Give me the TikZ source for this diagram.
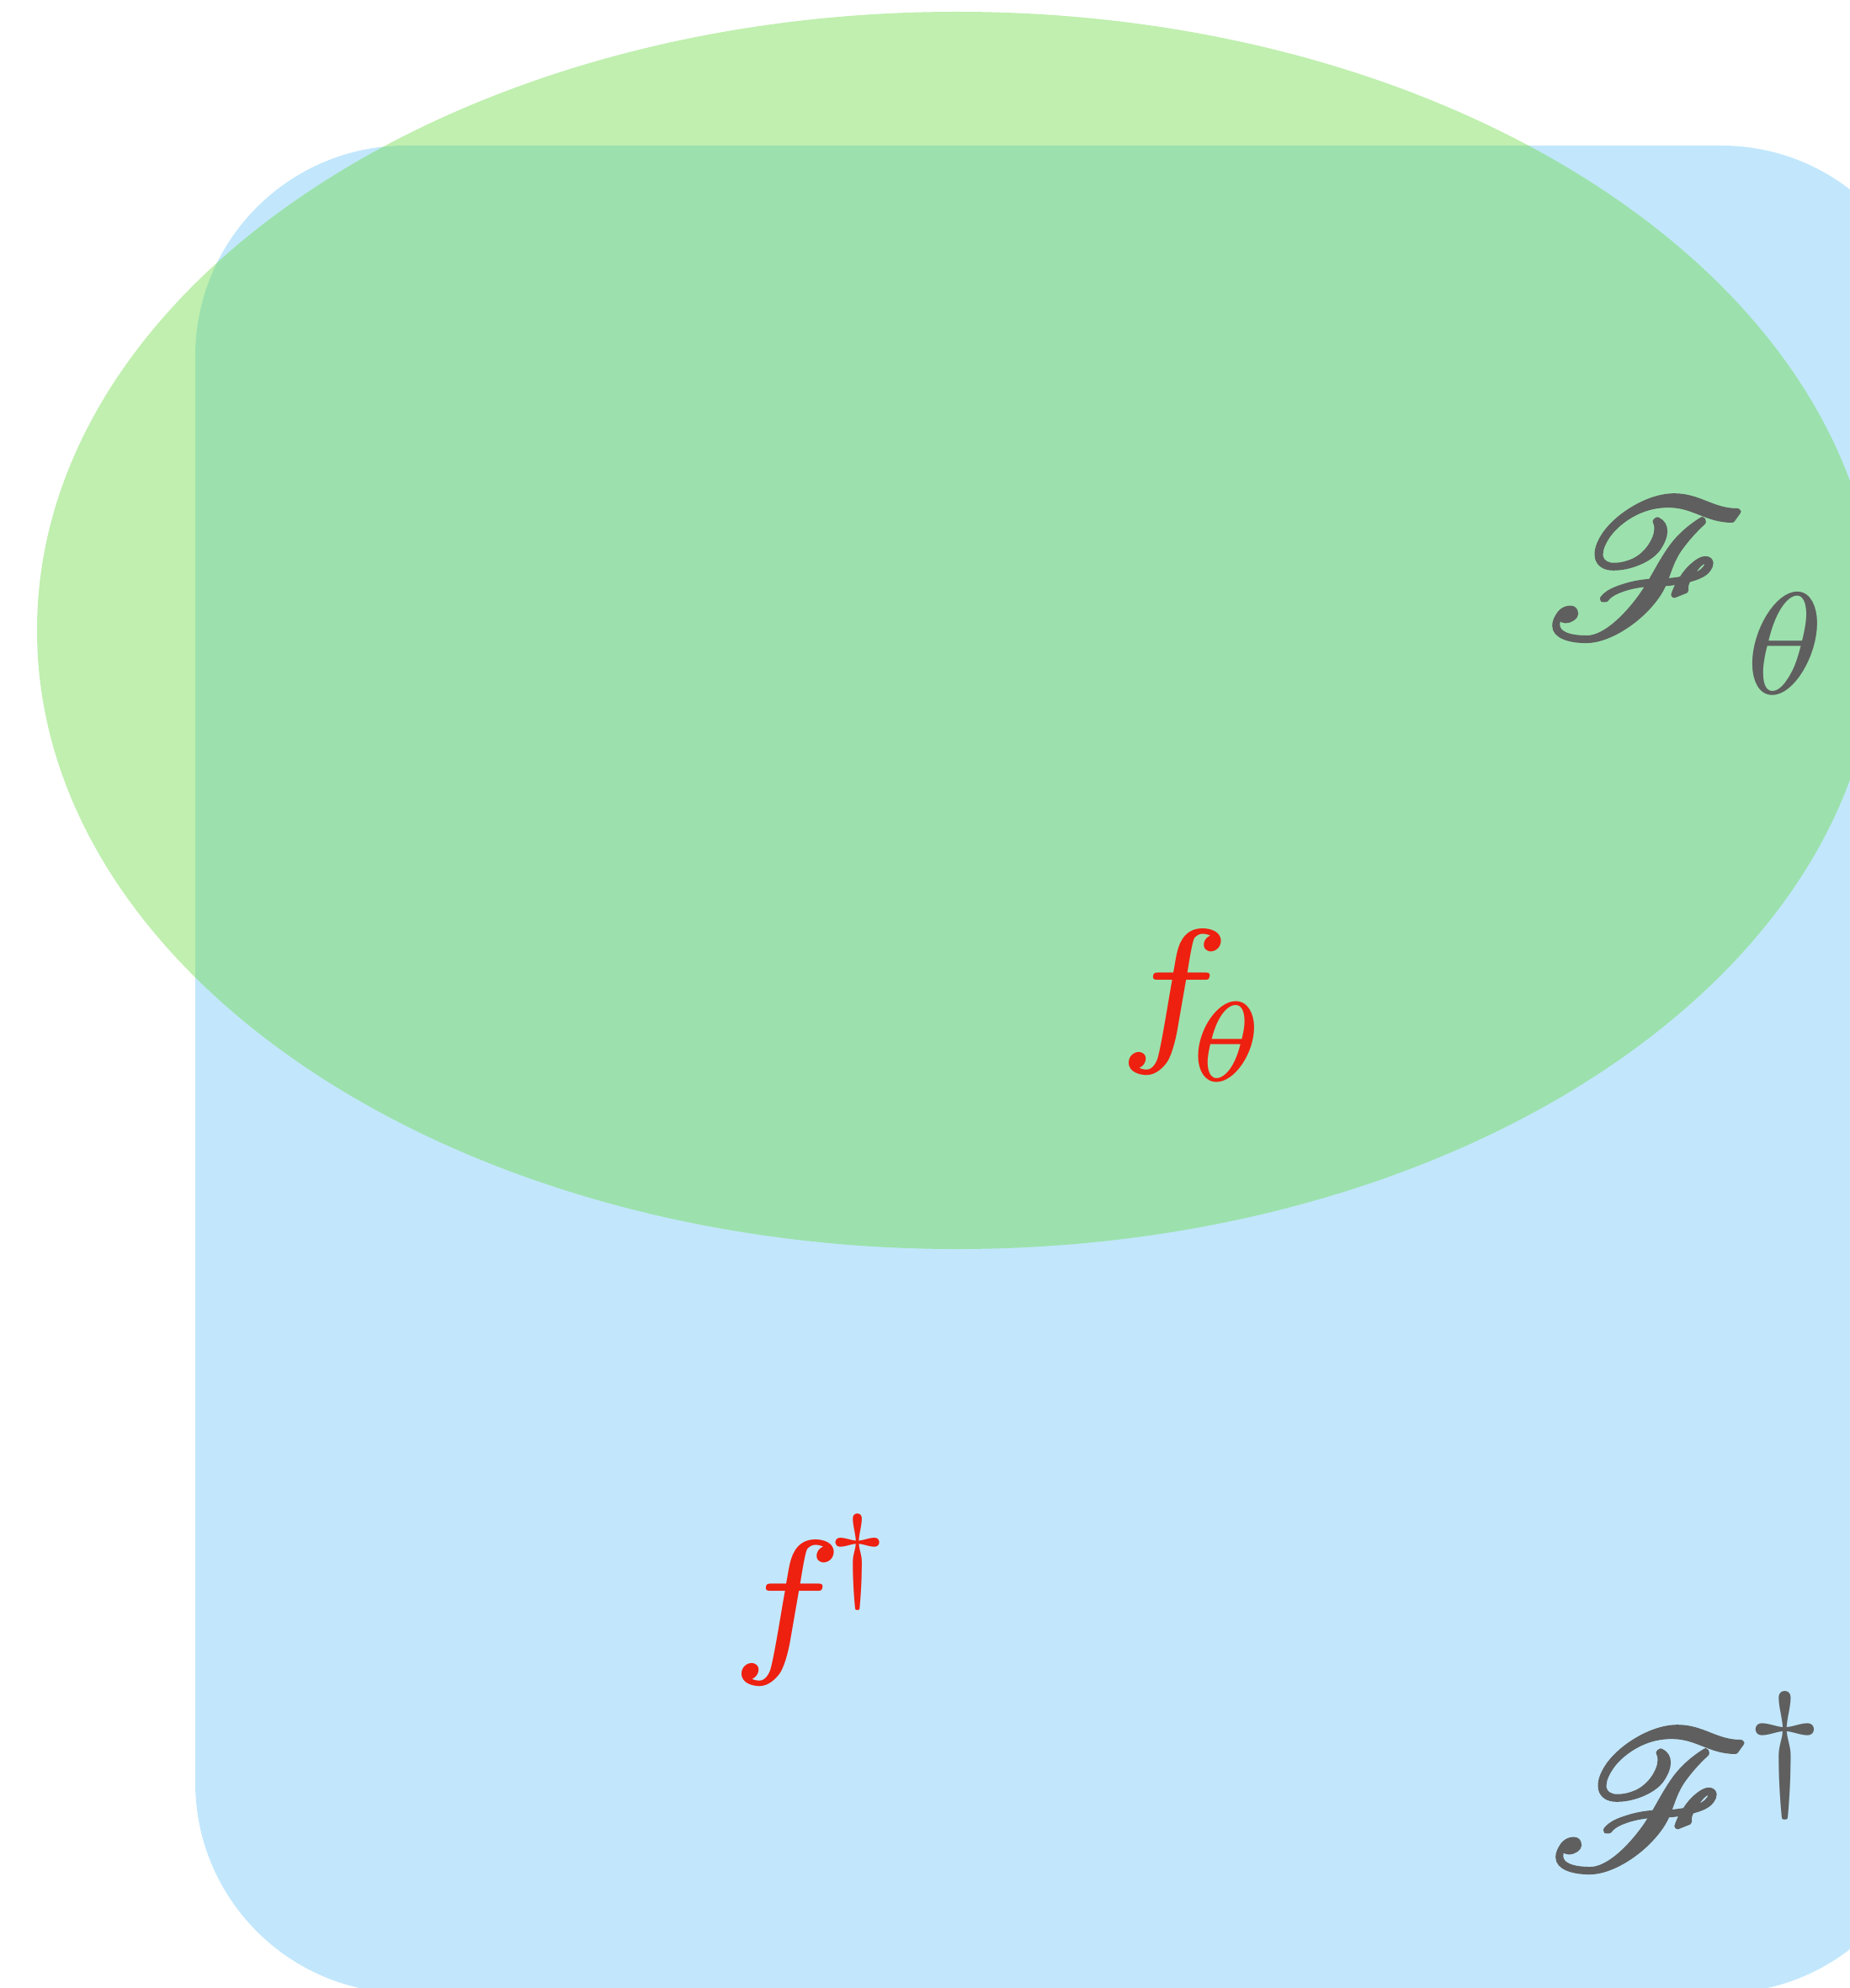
\documentclass[tikz,border=0pt]{standalone}
\usepackage{amsmath,amssymb}
\usepackage{mathrsfs}
\usepackage{graphicx}
\usepackage{tikz}
\definecolor{fBlue}{RGB}{194,231,252}
\definecolor{fGreen}{RGB}{105,217,64}
\definecolor{dGray}{RGB}{95,95,95}
\definecolor{fRed}{RGB}{238,32,16}
% index: kern, scale, raise, content
\newcommand{\sidx}[4]{\kern#1\raisebox{#3}{\scalebox{#2}{$#4$}}}
% heavier script F
\newcommand{\heavyF}{\special{pdf:literal direct 2 Tr 0.17 w}\mathscr{F}\special{pdf:literal direct 0 Tr}}

\begin{document}
\begin{tikzpicture}[
  sp/.style={fill=fBlue,rounded corners=2.5cm},
  ns/.style={fill=fGreen,fill opacity=0.42},
  fn/.style={text=fRed,scale=10.9,inner sep=0pt,anchor=base west,font=\fontsize{5}{6}\selectfont},
  cl/.style={text=dGray,scale=6.6,inner sep=0pt,anchor=base west,font=\fontsize{10}{12}\selectfont}]
  \useasboundingbox (0,0) rectangle (21.98,-23.62);
  \clip (0,0) rectangle (21.98,-23.62);
  \fill[sp] (2.32,-1.73) rectangle (22.95,-23.68);
  \fill[ns] (11.37,-7.49) ellipse [x radius=10.93,y radius=7.35];
  \node[cl] (Fth) at (18.32,-7.57) {$\heavyF_{\sidx{-0.19pt}{1.06}{-1.43pt}{\scriptstyle\theta}}$};
  \node[fn] (fth) at (13.11,-12.38) {$f_{\sidx{-1.05pt}{0.7}{-0.21pt}{\theta}}$};
  \node[fn] (fd) at (8.51,-19.64) {$f^{\sidx{-0.91pt}{0.65}{0pt}{\dagger}}$};
  \node[cl] (Fd) at (18.36,-22.20) {$\heavyF^{\sidx{-0.64pt}{1.43}{0.39pt}{\scriptscriptstyle\dagger}}$};
\end{tikzpicture}
\end{document}
